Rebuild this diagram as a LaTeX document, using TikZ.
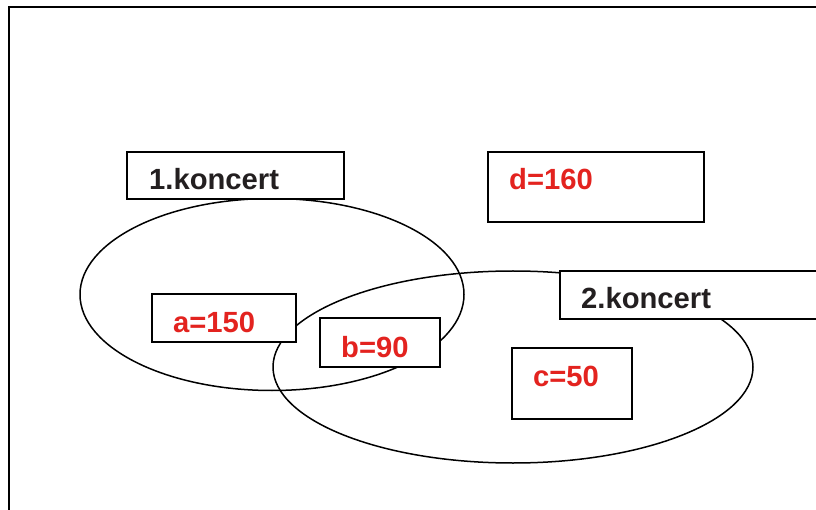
\documentclass[tikz,border=0pt]{standalone}
\usepackage{fontspec}
\setmainfont{Liberation Sans}
\usetikzlibrary{shapes.geometric}
\definecolor{inkred}{RGB}{227,35,31}
\definecolor{inkdark}{RGB}{35,31,32}
\tikzset{
  setline/.style={line width=1.5pt, draw=black},
  databox/.style={draw=black, line width=1.6pt, fill=white},
  settitle/.style={anchor=base west, inner sep=0pt, font=\bfseries\fontsize{29.2}{31}\selectfont, text=inkdark},
  setvalue/.style={anchor=base west, inner sep=0pt, font=\bfseries\fontsize{29.2}{31}\selectfont, text=inkred}
}
\begin{document}
\begin{tikzpicture}[x=1pt, y=-1pt]
  \useasboundingbox (0,0) rectangle (816,510);
  \clip (0,0) rectangle (816,510);
  \fill[white] (0,0) rectangle (816,510);

  % outer frame, open to the right and bottom
  \draw[line width=2.4pt] (9,520) -- (9,7) -- (830,7);

  % the two sets
  \node[setline, ellipse, minimum width=384pt, minimum height=192pt, inner sep=0pt] (set1) at (272,294.5) {};
  \node[setline, ellipse, minimum width=480pt, minimum height=192pt, inner sep=0pt] (set2) at (513,367) {};

  % boxes
  \draw[databox] (127,152) rectangle (344,199);
  \draw[databox] (488,152) rectangle (704,222);
  \draw[databox] (152,294) rectangle (296,342);
  \draw[databox] (320,318) rectangle (440,367);
  \draw[databox] (560,271) rectangle (830,319);
  \draw[databox] (512,348) rectangle (632,419);

  % labels
  \node[settitle] (t1) at (149,190) {1.koncert};
  \node[settitle] (t2) at (581,309) {2.koncert};
  \node[setvalue] (va) at (173,333) {a=150};
  \node[setvalue] (vb) at (341,357) {b=90};
  \node[setvalue] (vc) at (533,386) {c=50};
  \node[setvalue] (vd) at (509,190) {d=160};
\end{tikzpicture}
\end{document}
